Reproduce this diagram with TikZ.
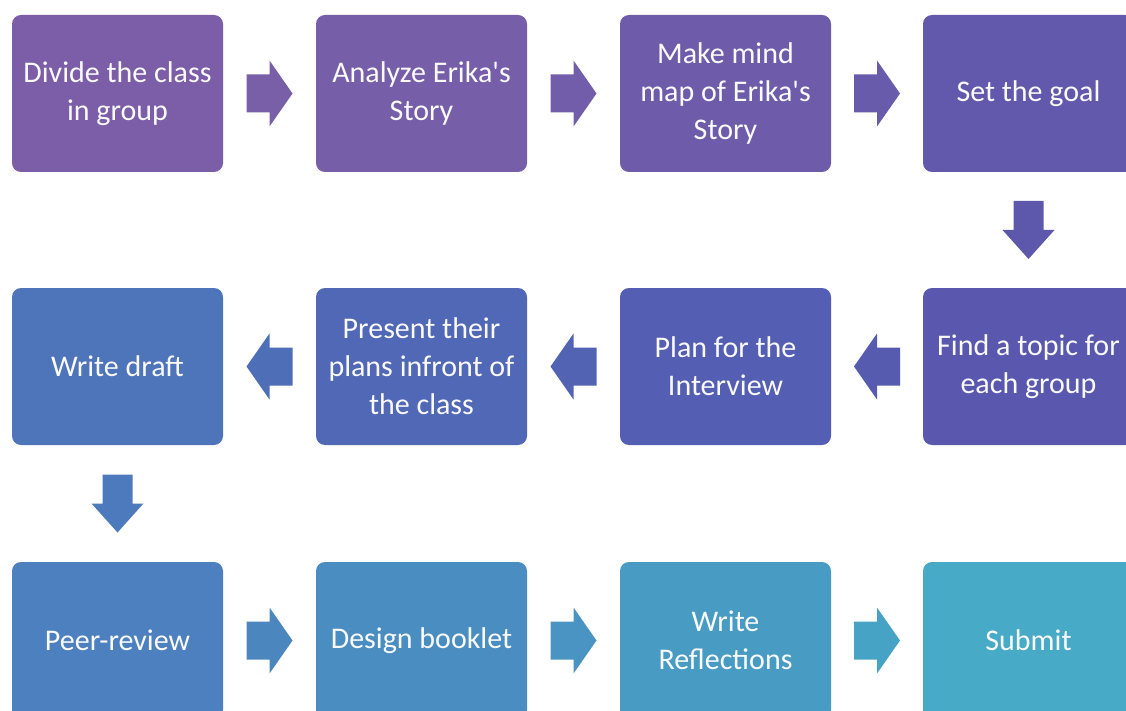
\documentclass[tikz,border=0pt]{standalone}
\usepackage{fontspec}
\setmainfont{Carlito}
\usetikzlibrary{calc}

% step colours, purple to teal
\definecolor{c1}{RGB}{123,94,167}
\definecolor{c2}{RGB}{118,94,168}
\definecolor{c3}{RGB}{110,92,171}
\definecolor{c4}{RGB}{98,89,172}
\definecolor{c5}{RGB}{90,88,174}
\definecolor{c6}{RGB}{84,94,178}
\definecolor{c7}{RGB}{80,104,182}
\definecolor{c8}{RGB}{78,116,186}
\definecolor{c9}{RGB}{76,128,190}
\definecolor{c10}{RGB}{74,141,192}
\definecolor{c11}{RGB}{72,156,195}
\definecolor{c12}{RGB}{71,170,198}

\newcommand{\apos}{\textquotesingle}

\tikzset{
  stepbox/.style={rectangle, rounded corners=9pt, draw=none,
    minimum width=211pt, minimum height=157pt, inner sep=0pt,
    align=center, text=white!96!gray,
    font=\fontsize{30}{38}\selectfont},
  % block arrow pointing along +x, centred on its origin
  pics/harrow/.style={code={
    \fill[#1] (-23,-19) -- (0,-19) -- (0,-33) -- (23,0) -- (0,33) -- (0,19) -- (-23,19) -- cycle;}},
  pics/varrow/.style={code={
    \fill[#1] (-29,-15) -- (0,-15) -- (0,-26) -- (29,0) -- (0,26) -- (0,15) -- (-29,15) -- cycle;}},
}

\begin{document}
\begin{tikzpicture}[x=1pt, y=-1pt]
\useasboundingbox (0,0) rectangle (1126,711);
\fill[white] (0,0) rectangle (1126,711);
\clip (0,0) rectangle (1126,711);

% row 1
\node[stepbox, fill=c1]  (n1)  at (117.5,93.5)  {Divide the class\\in group};
\node[stepbox, fill=c2]  (n2)  at (421.5,93.5)  {Analyze Erika\apos s\\Story};
\node[stepbox, fill=c3]  (n3)  at (725.5,93.5)  {Make mind\\map of Erika\apos s\\Story};
\node[stepbox, fill=c4]  (n4)  at (1028.5,93.5) {Set the goal};
% row 2 (runs right to left)
\node[stepbox, fill=c5]  (n5)  at (1028.5,366.5) {Find a topic for\\each group};
\node[stepbox, fill=c6]  (n6)  at (725.5,366.5)  {Plan for the\\Interview};
\node[stepbox, fill=c7]  (n7)  at (421.5,366.5)  {Present their\\plans infront of\\the class};
\node[stepbox, fill=c8]  (n8)  at (117.5,366.5)  {Write draft};
% row 3
\node[stepbox, fill=c9]  (n9)  at (117.5,640.5)  {Peer-review};
\node[stepbox, fill=c10] (n10) at (421.5,640.5)  {Design booklet};
\node[stepbox, fill=c11] (n11) at (725.5,640.5)  {Write\\Reflections};
\node[stepbox, fill=c12] (n12) at (1028.5,640.5) {Submit};

% connectors
\pic at ($(n1.east)!0.5!(n2.west)$) {harrow=c1!50!c2};
\pic at ($(n2.east)!0.5!(n3.west)$) {harrow=c2!50!c3};
\pic at ($(n3.east)!0.5!(n4.west)$) {harrow=c3!50!c4};
\pic[rotate=-90] at ($(n4.south)!0.5!(n5.north)$) {varrow=c4!50!c5};
\pic[rotate=180] at ($(n5.west)!0.5!(n6.east)$) {harrow=c5!50!c6};
\pic[rotate=180] at ($(n6.west)!0.5!(n7.east)$) {harrow=c6!50!c7};
\pic[rotate=180] at ($(n7.west)!0.5!(n8.east)$) {harrow=c7!50!c8};
\pic[rotate=-90] at ($(n8.south)!0.5!(n9.north)$) {varrow=c8!50!c9};
\pic at ($(n9.east)!0.5!(n10.west)$) {harrow=c9!50!c10};
\pic at ($(n10.east)!0.5!(n11.west)$) {harrow=c10!50!c11};
\pic at ($(n11.east)!0.5!(n12.west)$) {harrow=c11!50!c12};
\end{tikzpicture}
\end{document}
